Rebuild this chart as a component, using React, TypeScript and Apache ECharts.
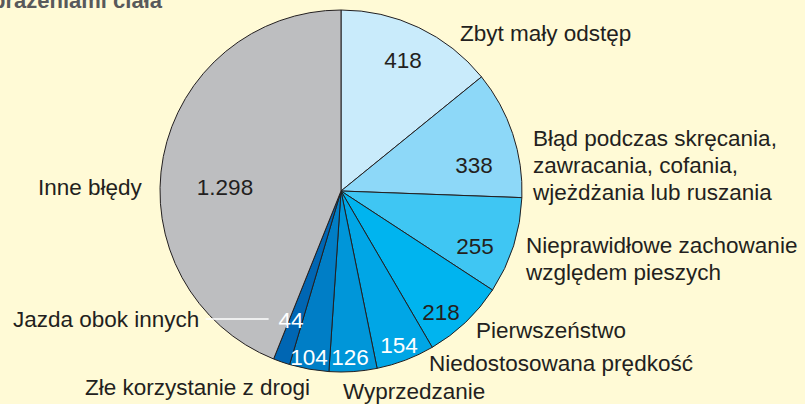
import React, { useEffect, useRef } from 'react';
import * as echarts from 'echarts';

// ---- data ----
const categories = [
  'Zbyt mały odstęp',
  'Błąd podczas skręcania,\nzawracania, cofania,\nwjeżdżania lub ruszania',
  'Nieprawidłowe zachowanie\nwzględem pieszych',
  'Pierwszeństwo',
  'Niedostosowana prędkość',
  'Wyprzedzanie',
  'Złe korzystanie z drogi',
  'Jazda obok innych',
  'Inne błędy',
];
const values = [418, 338, 255, 218, 154, 126, 104, 44, 1298];
const titleText = 'z obrażeniami ciała';

// ---- styles / layout ----
const sliceColors = [
  '#C9EBFB', '#8DD8F8', '#3FC6F3', '#00B4EF', '#00A6E6',
  '#0096D9', '#007EC6', '#0066B3', '#BDBEC0',
];
const valueTextColors = [
  '#231F20', '#231F20', '#231F20', '#231F20', '#FFFFFF',
  '#FFFFFF', '#FFFFFF', '#FFFFFF', '#231F20',
];
// label centres for values
const valueLabelPos = [
  [403, 60], [474, 165], [475, 246], [441, 312], [399, 345],
  [350, 357], [309, 357], [291, 320], [225, 187],
];
// name labels: left x, vertical centre
const nameLabelPos = [
  [460, 33], [533, 165.5], [526, 258.5], [476, 330.5], [429, 363],
  [343, 391.5], [85, 387.5], [13, 319], [38, 187],
];
const FONT = '"Liberation Sans", Arial, Helvetica, sans-serif';
const FS = 22.5;

function fmt(v: number): string {
  return String(v).replace(/\B(?=(\d{3})+(?!\d))/g, '.');
}

export default function App() {
  const ref = useRef<HTMLDivElement>(null);
  useEffect(() => {
    if (!ref.current) return;
    const chart = echarts.init(ref.current, null, { renderer: 'svg' });
    const center = [341, 191];
    const radius = [0, 181];
    chart.setOption({
      animation: false,
      backgroundColor: '#FFFAD6',
      graphic: [
        {
          type: 'text',
          x: 162,
          y: 0.8,
          style: {
            text: titleText,
            fill: '#58595B',
            fontSize: 22,
            fontWeight: 'bold',
            fontFamily: FONT,
            align: 'right',
            verticalAlign: 'middle',
          },
        },
      ],
      series: [
        {
          type: 'pie',
          center,
          radius,
          startAngle: 90,
          clockwise: true,
          avoidLabelOverlap: false,
          emphasis: { disabled: true },
          itemStyle: { borderColor: '#231F20', borderWidth: 1 },
          label: {
            show: true,
            position: 'inside',
            fontSize: FS,
            fontFamily: FONT,
            formatter: (p: any) => fmt(p.value),
          },
          labelLine: { show: false },
          labelLayout: (p: any) => ({
            x: valueLabelPos[p.dataIndex][0],
            y: valueLabelPos[p.dataIndex][1],
            align: 'center',
            verticalAlign: 'middle',
          }),
          data: values.map((v, i) => ({
            value: v,
            name: categories[i],
            itemStyle: { color: sliceColors[i] },
            label: { color: valueTextColors[i] },
          })),
        },
        {
          type: 'pie',
          center,
          radius,
          startAngle: 90,
          clockwise: true,
          silent: true,
          avoidLabelOverlap: false,
          emphasis: { disabled: true },
          itemStyle: { color: 'rgba(0,0,0,0)', borderWidth: 0 },
          label: {
            show: true,
            position: 'outside',
            color: '#231F20',
            fontSize: FS,
            fontFamily: FONT,
            lineHeight: 27,
            formatter: (p: any) =>
              p.dataIndex === 7 ? '{t|' + p.name + ' }{ln| }' : p.name,
            rich: {
              t: { color: '#231F20', fontSize: FS, fontFamily: FONT, lineHeight: 27 },
              ln: { width: 63, height: 1.5, backgroundColor: '#FFFFFF' },
            },
          },
          labelLine: { show: false },
          labelLayout: (p: any) => ({
            x: nameLabelPos[p.dataIndex][0],
            y: nameLabelPos[p.dataIndex][1],
            align: 'left',
            verticalAlign: 'middle',
          }),
          data: values.map((v, i) => ({ value: v, name: categories[i] })),
        },
      ],
    });
    return () => chart.dispose();
  }, []);
  return (
    <div
      ref={ref}
      style={{ position: 'absolute', left: 0, top: 0, width: 805, height: 404 }}
    />
  );
}
